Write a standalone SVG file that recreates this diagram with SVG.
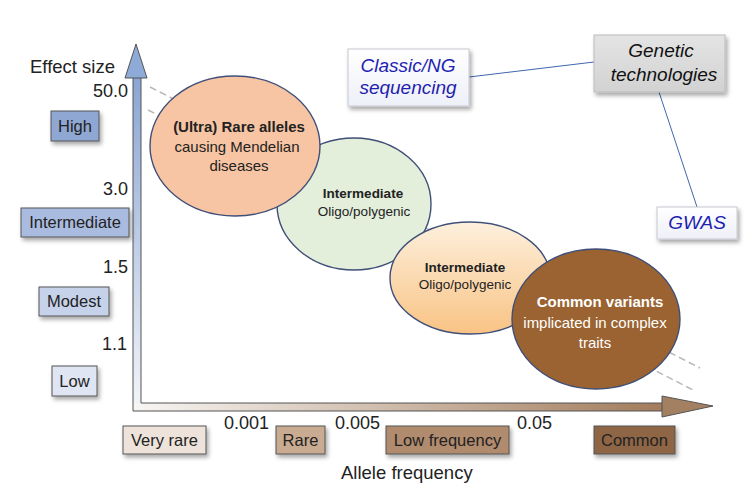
<svg xmlns="http://www.w3.org/2000/svg" width="755" height="488" viewBox="0 0 755 488">
<defs>
  <linearGradient id="gV" x1="0" y1="0" x2="0" y2="1">
    <stop offset="0" stop-color="#8ba6d4"/>
    <stop offset="1" stop-color="#f4f5fa"/>
  </linearGradient>
  <linearGradient id="gH" x1="0" y1="0" x2="1" y2="0">
    <stop offset="0" stop-color="#f8f6f4"/>
    <stop offset="1" stop-color="#a27c5c"/>
  </linearGradient>
  <linearGradient id="gOr" x1="0" y1="0" x2="0" y2="1">
    <stop offset="0" stop-color="#fdf0dd"/>
    <stop offset="1" stop-color="#f9c384"/>
  </linearGradient>
  <linearGradient id="gGray" x1="0" y1="0" x2="0" y2="1">
    <stop offset="0" stop-color="#e4e4e4"/>
    <stop offset="1" stop-color="#d2d2d2"/>
  </linearGradient>
  <linearGradient id="gPale" x1="0" y1="0" x2="0" y2="1">
    <stop offset="0" stop-color="#ffffff"/>
    <stop offset="1" stop-color="#eef0f8"/>
  </linearGradient>
  <filter id="sh" x="-20%" y="-20%" width="150%" height="160%">
    <feDropShadow dx="2" dy="3" stdDeviation="2" flood-color="#000" flood-opacity="0.35"/>
  </filter>
  <style>
    text { font-family: "Liberation Sans", Arial, sans-serif; fill: #222; }
    .num { font-size: 18px; text-anchor: end; }
    .lab { font-size: 16.5px; text-anchor: middle; }
    .box { stroke: #555; stroke-width: 1; filter: url(#sh); }
    .ell { stroke: #3f4f78; stroke-width: 1.4; }
    .et { font-size: 15px; text-anchor: middle; }
    .eb { font-size: 15px; font-weight: bold; text-anchor: middle; }
    .it { font-size: 13.5px; text-anchor: middle; }
    .ib { font-size: 13.5px; font-weight: bold; text-anchor: middle; }
    .blue { font-size: 19px; font-style: italic; fill: #1f1fb0; text-anchor: middle; }
    .gen { font-size: 19px; font-style: italic; fill: #111; text-anchor: middle; }
    .dash { stroke: #b8b8b8; stroke-width: 1.5; stroke-dasharray: 7 4; fill: none; }
    .conn { stroke: #3f68ad; stroke-width: 1; fill: none; }
  </style>
</defs>
<rect width="755" height="488" fill="#ffffff"/>

<!-- axes -->
<g id="axes">
  <rect x="133" y="78" width="8" height="333" fill="url(#gV)"/>
  <rect x="133" y="403" width="529" height="8" fill="url(#gH)"/>
  <polygon points="125,78 136,44 147,78" fill="#8eaad6" stroke="#555" stroke-width="1"/>
  <polygon points="662,396 713,406 662,417" fill="#a48062" stroke="#555" stroke-width="1"/>
  <path d="M141,78 V403 H662 M133,78 V411 H662" fill="none" stroke="#555" stroke-width="1"/>
  <text x="30" y="73" style="font-size:18.5px">Effect size</text>
  <text x="341" y="479" style="font-size:18.5px">Allele frequency</text>
</g>

<!-- dashed guides -->
<g id="guides">
  <line class="dash" x1="150" y1="87" x2="700" y2="368"/>
  <line class="dash" x1="148" y1="110" x2="693" y2="390"/>
</g>

<!-- effect size scale -->
<g id="effect-scale">
  <text class="num" x="128" y="97">50.0</text>
  <text class="num" x="128" y="195">3.0</text>
  <text class="num" x="128" y="273">1.5</text>
  <text class="num" x="127" y="350">1.1</text>
</g>
<g id="box-high"><rect class="box" x="51" y="111" width="48" height="30" fill="#8fa7d3"/><text class="lab" x="75" y="132">High</text></g>
<g id="box-intermediate"><rect class="box" x="21" y="208" width="108" height="29" fill="#a9bce0"/><text class="lab" x="75" y="228">Intermediate</text></g>
<g id="box-modest"><rect class="box" x="39" y="287" width="70" height="29" fill="#c6d2ea"/><text class="lab" x="74" y="307">Modest</text></g>
<g id="box-low"><rect class="box" x="52" y="366" width="45" height="30" fill="#dfe5f3"/><text class="lab" x="74.5" y="387">Low</text></g>

<!-- frequency scale -->
<g id="freq-scale">
  <text x="224" y="429" style="font-size:18px">0.001</text>
  <text x="335" y="429" style="font-size:18px">0.005</text>
  <text x="517" y="429" style="font-size:18px">0.05</text>
</g>
<g id="box-veryrare"><rect class="box" x="123" y="426" width="83" height="28" fill="#ede3da"/><text class="lab" x="164.5" y="446">Very rare</text></g>
<g id="box-rare"><rect class="box" x="276" y="426" width="49" height="28" fill="#c9ab92"/><text class="lab" x="300.5" y="446">Rare</text></g>
<g id="box-lowfreq"><rect class="box" x="386" y="426" width="123" height="28" fill="#b08b6d"/><text class="lab" x="447.5" y="446">Low frequency</text></g>
<g id="box-common"><rect class="box" x="594" y="426" width="81" height="28" fill="#8f6644"/><text class="lab" x="634.5" y="446">Common</text></g>

<!-- ellipses -->
<g id="ell-intermediate1">
  <ellipse class="ell" cx="354" cy="204" rx="77" ry="66" fill="#e3eedb"/>
  <text class="ib" x="363" y="198">Intermediate</text>
  <text class="it" x="364" y="216">Oligo/polygenic</text>
</g>
<g id="ell-rare">
  <ellipse class="ell" cx="235" cy="146" rx="85" ry="70" fill="#f7c5a3"/>
  <text class="eb" x="239" y="132">(Ultra) Rare alleles</text>
  <text class="et" x="237" y="152">causing Mendelian</text>
  <text class="et" x="239" y="171">diseases</text>
</g>
<g id="ell-intermediate2">
  <ellipse class="ell" cx="470" cy="278" rx="80" ry="56" fill="url(#gOr)"/>
  <text class="ib" x="465" y="272">Intermediate</text>
  <text class="it" x="465" y="289">Oligo/polygenic</text>
</g>
<g id="ell-common">
  <ellipse class="ell" cx="596" cy="319" rx="84" ry="70" fill="#9a6331"/>
  <text class="eb" x="600" y="307" style="fill:#fff">Common variants</text>
  <text class="et" x="595" y="328" style="fill:#fff">implicated in complex</text>
  <text class="et" x="595" y="348" style="fill:#fff">traits</text>
</g>

<!-- technology connectors -->
<g id="connectors">
  <line class="conn" x1="469" y1="77" x2="594" y2="62"/>
  <line class="conn" x1="659" y1="92" x2="697" y2="207"/>
</g>
<g id="box-sequencing">
  <rect x="348" y="49" width="121" height="57" fill="url(#gPale)" stroke="#c8c8d0" stroke-width="1" filter="url(#sh)"/>
  <text class="blue" x="408" y="72">Classic/NG</text>
  <text class="blue" x="408" y="94">sequencing</text>
</g>
<g id="box-genetic">
  <rect x="594" y="35" width="131" height="57" fill="url(#gGray)" stroke="#bbb" stroke-width="1" filter="url(#sh)"/>
  <text class="gen" x="661" y="57">Genetic</text>
  <text class="gen" x="664" y="81">technologies</text>
</g>
<g id="box-gwas">
  <rect x="657" y="207" width="80" height="32" fill="url(#gPale)" stroke="#c8c8d0" stroke-width="1" filter="url(#sh)"/>
  <text class="blue" x="697" y="229">GWAS</text>
</g>
</svg>
